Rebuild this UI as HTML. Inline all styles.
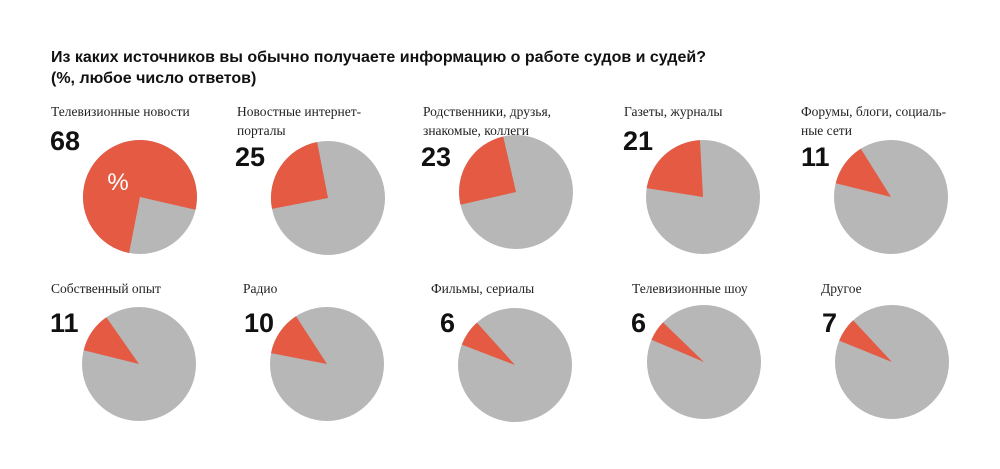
<!DOCTYPE html>
<html><head><meta charset="utf-8"><style>
body{margin:0;background:#fff;width:1000px;height:469px;overflow:hidden;position:relative;font-family:"Liberation Sans","Noto Sans CJK SC",sans-serif}
.t{position:absolute;left:51px;top:47px;font-weight:bold;font-size:16px;line-height:21px;color:#111}
.l{position:absolute;font-family:"Liberation Serif","Noto Serif CJK SC",serif;font-size:13.5px;line-height:19px;color:#222}
.n{position:absolute;font-weight:bold;font-size:27px;color:#111}
svg{position:absolute;left:0;top:0}
</style></head><body>
<div class="t">Из каких источников вы обычно получаете информацию о работе судов и судей?<br>(%, любое число ответов)</div>
<div class="l" style="left:51px;top:102px">Телевизионные новости</div>
<div class="l" style="left:237px;top:102px">Новостные интернет-<br>порталы</div>
<div class="l" style="left:423px;top:102px">Родственники, друзья,<br>знакомые, коллеги</div>
<div class="l" style="left:624px;top:102px">Газеты, журналы</div>
<div class="l" style="left:801px;top:102px">Форумы, блоги, социаль-<br>ные сети</div>
<div class="l" style="left:51px;top:279px">Собственный опыт</div>
<div class="l" style="left:243px;top:279px">Радио</div>
<div class="l" style="left:431px;top:279px">Фильмы, сериалы</div>
<div class="l" style="left:632px;top:279px">Телевизионные шоу</div>
<div class="l" style="left:821px;top:279px">Другое</div>
<div class="n" style="left:50px;top:126px">68</div>
<div class="n" style="left:235px;top:142px">25</div>
<div class="n" style="left:421px;top:142px">23</div>
<div class="n" style="left:623px;top:126px">21</div>
<div class="n" style="left:801px;top:142px">11</div>
<div class="n" style="left:50px;top:308px">11</div>
<div class="n" style="left:244px;top:308px">10</div>
<div class="n" style="left:440px;top:308px">6</div>
<div class="n" style="left:631px;top:308px">6</div>
<div class="n" style="left:822px;top:308px">7</div>
<svg width="1000" height="469" id="s"></svg>
<script>
var P=[[140,197,191,463],[328,198,259,349],[516,192,257,347],[703,197,279,357],[891,197,284,328],
[139,364,284,325],[327,364,281,327],[515,365,291,318],[704,362,293,314],[892,362,292,317]];
var h='';
function pt(cx,cy,a,r){a=a*Math.PI/180;return [(cx+r*Math.sin(a)).toFixed(1),(cy-r*Math.cos(a)).toFixed(1)];}
P.forEach(function(p){var r=57,cx=p[0],cy=p[1];
h+='<circle cx="'+cx+'" cy="'+cy+'" r="'+r+'" fill="#b7b7b7"/>';
var a=pt(cx,cy,p[2],r),b=pt(cx,cy,p[3],r),big=(p[3]-p[2])>180?1:0;
h+='<path d="M'+cx+','+cy+'L'+a+'A'+r+','+r+' 0 '+big+' 1 '+b+'Z" fill="#e45a43"/>';});
h+='<text x="118" y="190" font-family="Liberation Sans,sans-serif" font-size="24" fill="#fff" text-anchor="middle">%</text>';
document.getElementById('s').innerHTML=h;
</script>
</body></html>
